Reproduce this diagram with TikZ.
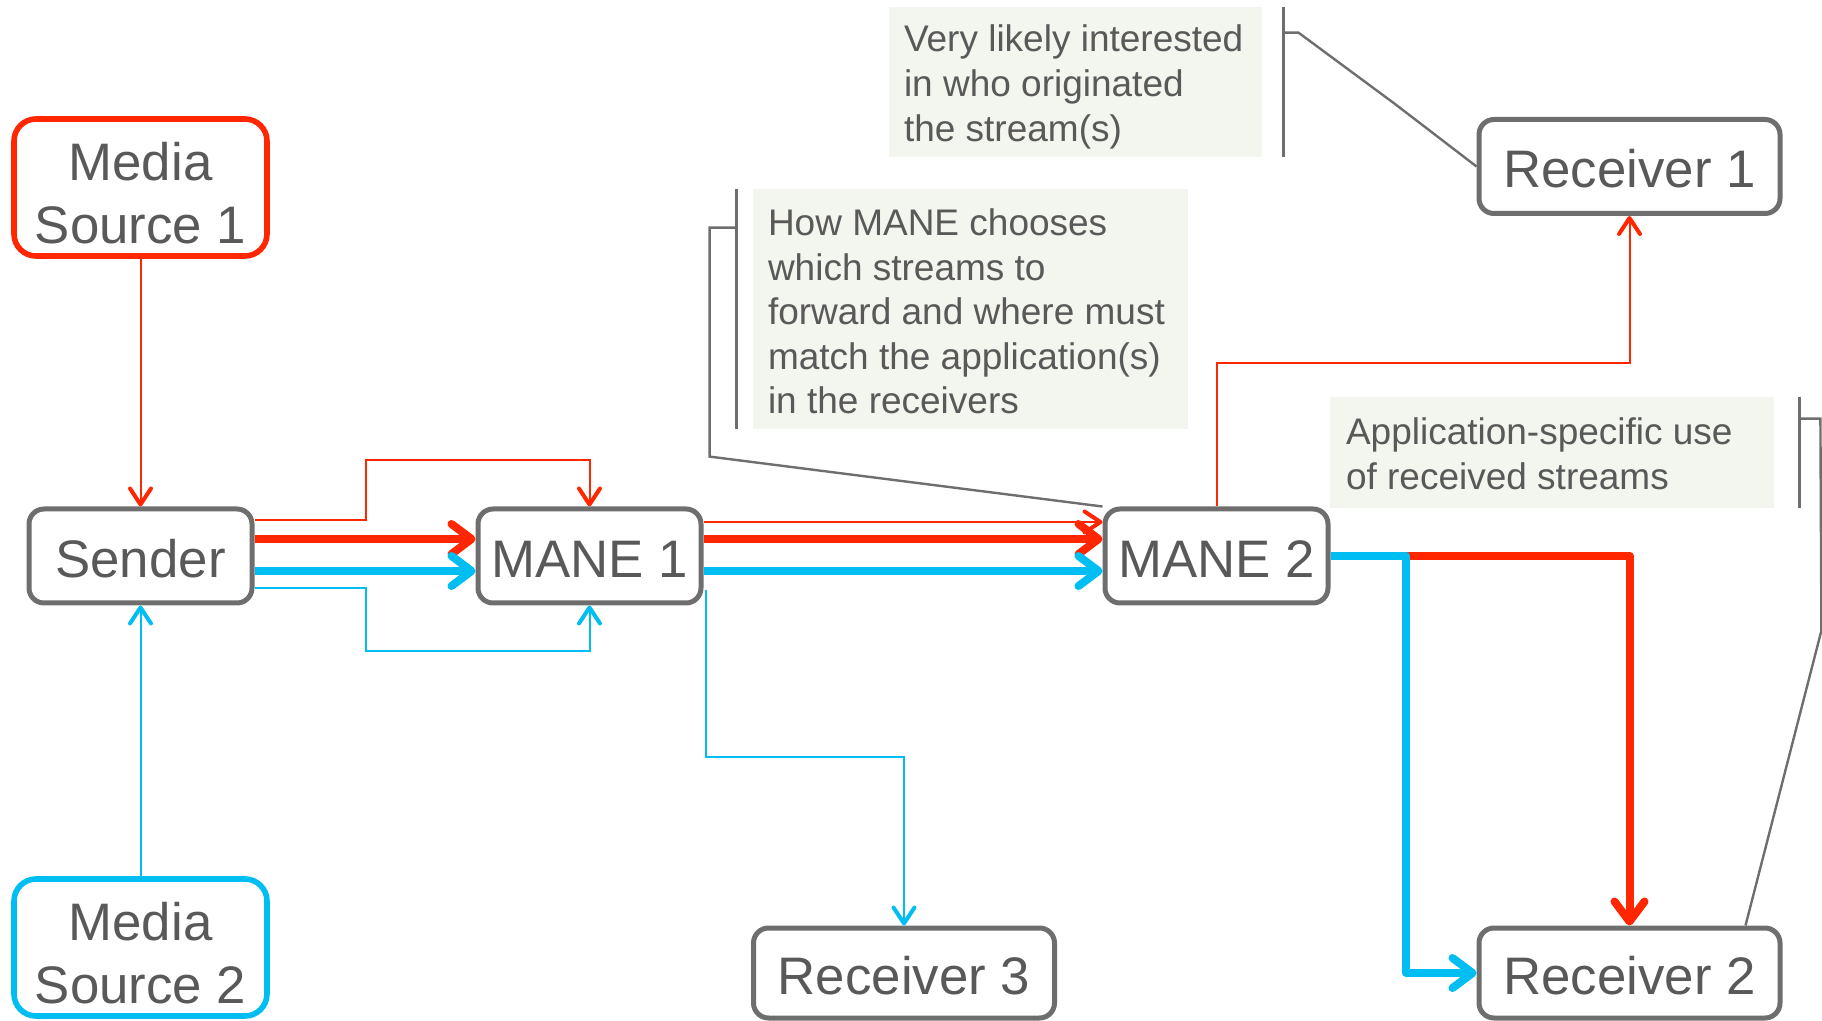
\documentclass[tikz,border=0pt]{standalone}
\usepackage{fontspec}
\setmainfont{Liberation Sans}
\usetikzlibrary{arrows.meta,calc}
\definecolor{srcred}{HTML}{FF2600}
\definecolor{srcblue}{HTML}{00BEF2}
\definecolor{boxgrey}{HTML}{6E6E6E}
\definecolor{txtgrey}{HTML}{595959}
\definecolor{notefill}{HTML}{F3F5EF}
\begin{document}
\begin{tikzpicture}[x=0.5pt,y=-0.5pt,
  gbox/.style={draw=boxgrey, line width=2.5pt, fill=white, rounded corners=7.5pt,
    minimum width=111.5pt, minimum height=47pt, inner sep=0pt, text=txtgrey,
    font=\fontsize{26.4}{31.5}\selectfont, align=center,
    text height=21.5pt, text depth=0pt},
  recv/.style={gbox, minimum width=150.5pt},
  source/.style={gbox, rounded corners=11pt, minimum width=126.5pt,
    minimum height=68.5pt, line width=2.8pt, text height=56pt},
  note/.style={fill=notefill, inner sep=0pt},
  notetext/.style={anchor=west, inner sep=0pt, text=txtgrey, align=left,
    font=\fontsize{18.5}{22.3}\selectfont},
  flowthin/.style={line width=1pt,
    -{Straight Barb[length=8pt,width=10.5pt,line width=2pt,round]}},
  flowthick/.style={line width=4pt, line join=round,
    -{Straight Barb[length=10pt,width=15pt,round]}},
  callout/.style={draw=boxgrey, line width=1.2pt},
]
\useasboundingbox (0,0) rectangle (1822,1021);

% stream endpoints and forwarding nodes
\node[source, draw=srcred]  (ms1) at (140.5,187.5) {Media\\Source 1};
\node[source, draw=srcblue] (ms2) at (140.5,947.5) {Media\\Source 2};
\node[gbox] (snd) at (140.5,556)  {Sender};
\node[gbox] (m1)  at (589.5,556)  {MANE 1};
\node[gbox] (m2)  at (1216.5,556) {MANE 2};
\node[recv] (r1)  at (1629.5,166.5) {Receiver 1};
\node[recv, minimum height=45pt] (r2) at (1629.5,973) {Receiver 2};
\node[recv, minimum height=45pt] (r3) at (904,973)    {Receiver 3};

% annotation boxes
\node[note, minimum width=186.5pt, minimum height=75pt] (na) at (1075.5,82) {};
\node[notetext] (nat) at ($(na.west)+(15,5)$)
  {Very likely interested\\in who originated\\the stream(s)};
\node[note, minimum width=217.5pt, minimum height=120pt] (nb) at (970.5,309) {};
\node[notetext] (nbt) at ($(nb.west)+(15,2.5)$)
  {How MANE chooses\\which streams to\\forward and where must\\match the application(s)\\in the receivers};
\node[note, minimum width=222pt, minimum height=55.5pt] (nc) at (1552,452.5) {};
\node[notetext] (nct) at ($(nc.west)+(16,1.5)$)
  {Application-specific use\\of received streams};

% annotation leader lines
\coordinate (ka) at (1395,104);
\draw[callout] ($(na.north east)+(21,0)$) -- ($(na.south east)+(21,0)$);
\draw[callout] ($(na.north east)+(21,26)$) -- ++(15,0) -- (ka) -- (r1.west);
\draw[callout] ($(nb.north west)+(-16,0)$) -- ($(nb.south west)+(-16,0)$);
\draw[callout] ($(nb.north west)+(-16,39)$) -- ++(-27,0) -- ++(0,229) -- (m2.north west);
\draw[callout] ($(nc.north east)+(25,0)$) -- ($(nc.south east)+(25,0)$);
\draw[callout] ($(nc.north east)+(25,22)$) -- ++(21,0) -- ++(1,212)
  -- ($(r2.north east)+(-37,0)$);

% sources into the sender
\draw[flowthin, srcred]  (ms1.south) -- (snd.north);
\draw[flowthin, srcblue] (ms2.north) -- (snd.south);

% sender to MANE 1
\coordinate (rloop) at (366,460);
\coordinate (bloop) at (366,651);
\draw[flowthin, srcred]  ($(snd.east)+(0,-36)$) -| (rloop) -| (m1.north);
\draw[flowthin, srcblue] ($(snd.east)+(0,32)$)  -| (bloop) -| (m1.south);
\draw[flowthick, srcred]  ($(snd.east)+(0,-17)$) -- ($(m1.west)+(0,-17)$);
\draw[flowthick, srcblue] ($(snd.east)+(0,15)$)  -- ($(m1.west)+(0,15)$);

% MANE 1 to MANE 2 and Receiver 3
\draw[flowthin, srcred]   ($(m1.east)+(0,-34)$) -- ($(m2.west)+(0,-34)$);
\draw[flowthick, srcred]  ($(m1.east)+(0,-17)$) -- ($(m2.west)+(0,-17)$);
\draw[flowthick, srcblue] ($(m1.east)+(0,15)$)  -- ($(m2.west)+(0,15)$);
\coordinate (r3bend) at (904,757);
\draw[flowthin, srcblue] ($(m1.east)+(2,34)$) |- (r3bend) -- (r3.north);

% MANE 2 to Receivers 1 and 2
\draw[flowthin, srcred] (m2.north) |- ($(r1.south)+(0,147)$) -- (r1.south);
\draw[flowthick, srcred] (m2.east) -| (r2.north);
\coordinate (r2bend) at (1406,556);
\draw[flowthick, srcblue] (m2.east) -- (r2bend) |- (r2.west);
\end{tikzpicture}
\end{document}
